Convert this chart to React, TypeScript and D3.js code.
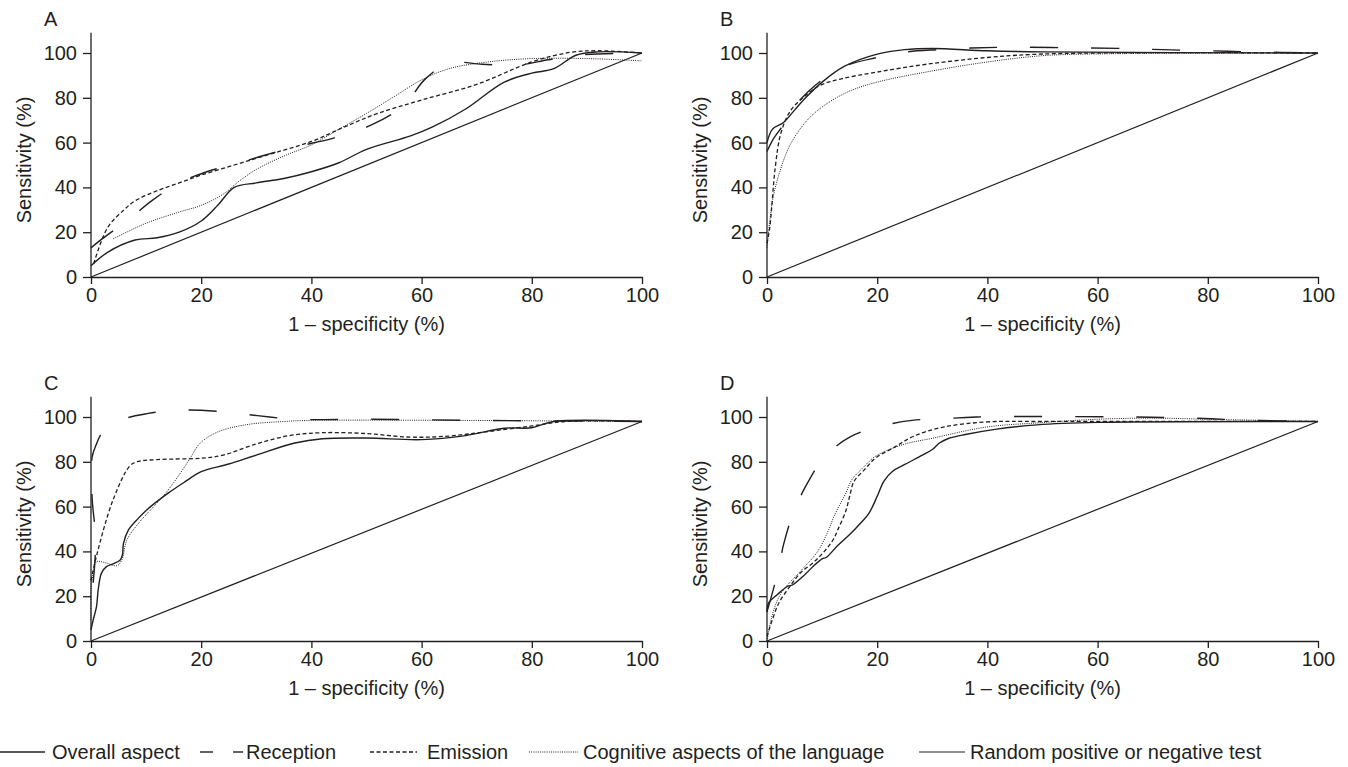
import React, { useEffect, useRef } from 'react';
import * as d3 from 'd3';

type Pt = [number, number];

const ticks = [0, 20, 40, 60, 80, 100];
const xTitle = '1 – specificity (%)';
const yTitle = 'Sensitivity (%)';
const seriesNames = [
  'Overall aspect',
  'Reception',
  'Emission',
  'Cognitive aspects of the language',
  'Random positive or negative test',
];

// Panel A
const aOverall: Pt[] = [[0, 5], [3, 11], [8, 16.5], [12, 17.5], [16, 20], [20, 25], [23, 32], [26, 40], [30, 42], [35, 44], [40, 47], [45, 51], [50, 57], [58, 63], [62, 67], [68, 75], [75, 87], [80, 91], [84, 93], [88, 99], [92, 100.5], [100, 100]];
const aReception: Pt[] = [[0, 13], [2, 17], [7, 26], [11, 34], [16, 42], [21, 47], [27, 51], [31, 54], [37, 58], [44, 62], [51, 68], [57, 77], [60.5, 88], [65, 95.5], [71, 95], [77, 94.5], [83, 97], [88, 99], [100, 100]];
const aEmission: Pt[] = [[0.5, 6], [3, 22], [6, 30], [8, 34], [12, 38.5], [16, 42], [20, 45.5], [26, 50], [32, 54.5], [40, 60.5], [46, 67], [52, 73], [60, 79], [70, 86], [80, 96], [87, 100.3], [92, 101], [100, 100]];
const aCognitive: Pt[] = [[4, 17], [10, 24], [16, 29], [20, 32], [24, 37], [27, 43], [30, 48], [35, 54], [40, 59], [45, 66], [50, 73], [55, 80.5], [60, 88], [65, 93], [72, 96], [80, 97.5], [90, 97.5], [100, 96.5]];
const aRandom: Pt[] = [[0, 0], [100, 100]];

// Panel B
const bOverall: Pt[] = [[0, 60], [1, 66], [3, 69], [5, 74.5], [7, 80], [10, 87], [14, 94], [20, 99.5], [25, 101.5], [30, 102], [40, 101], [50, 100.5], [100, 100]];
const bReception: Pt[] = [[0, 56], [1, 61], [3, 68], [6, 79], [10, 88], [14, 94], [20, 98], [25, 100.4], [31, 101.5], [37, 102.2], [45, 102.6], [55, 102.3], [65, 102], [70, 101.6], [80, 101], [88, 100.5], [100, 100]];
const bEmission: Pt[] = [[0, 15], [0.5, 22], [1.5, 49], [2.5, 64], [4.2, 74], [6.5, 80], [9.6, 85.5], [13.5, 88.5], [20, 91.5], [29, 95], [40, 98], [52, 99.7], [100, 100]];
const bCognitive: Pt[] = [[0, 13], [1, 34], [2.2, 46], [4.2, 59], [7.3, 70], [10.4, 76.6], [15, 83], [20, 87], [30, 92], [40, 96], [50, 98.8], [60, 99.6], [100, 100]];
const bRandom: Pt[] = [[0, 0], [100, 100]];

// Panel C
const cOverall: Pt[] = [[0, 5], [0.4, 9.4], [1, 15.3], [1.3, 22.8], [1.9, 30.3], [2.8, 33.2], [4, 34.4], [5.3, 36.2], [5.7, 38.4], [5.9, 43.6], [6.8, 49.6], [8.3, 54], [10.1, 58.5], [14, 66], [17, 71], [20, 75.6], [25, 79], [30, 83], [37, 88.4], [42, 90.3], [50, 90.6], [60, 89.9], [68, 91.7], [75, 95], [80, 95.2], [84, 98], [100, 98]];
const cReception: Pt[] = [[0.4, 26], [0.85, 45], [0.2, 64], [0.2, 82], [1, 88], [2.1, 93.2], [6, 99.1], [10.4, 101.6], [16.2, 103.1], [23.3, 102.5], [30.2, 100.6], [37, 99], [50, 99], [70, 98.5], [100, 98]];
const cEmission: Pt[] = [[0, 27], [1, 38], [4, 63], [7, 78], [8.3, 80], [12, 81], [20, 81.6], [24, 83], [30, 88], [36, 91.7], [42, 93], [50, 92.6], [58, 91], [65, 91.5], [72, 93.5], [80, 96], [86, 98], [100, 98]];
const cCognitive: Pt[] = [[0, 9.4], [0, 22.8], [0.4, 30.2], [1, 35.4], [2.8, 34.8], [4.7, 33.6], [5.6, 36.2], [6.5, 45], [8.6, 52.5], [11.9, 61.4], [14, 67.4], [16.2, 74.9], [18, 81.6], [19.8, 88.3], [23, 93.3], [28, 96.5], [35, 98], [40, 98.5], [100, 98]];
const cRandom: Pt[] = [[0, 0], [100, 98]];

// Panel D
const dOverall: Pt[] = [[0, 13], [0.3, 17], [1.9, 20.8], [3.8, 24.5], [4.6, 25], [6.9, 29.7], [8.4, 33.4], [10, 36.7], [10.8, 37.4], [12.7, 42.3], [15, 47.5], [17, 52.7], [18.5, 57], [20, 64.6], [21.2, 71.3], [22.8, 75.8], [25, 78.8], [28.2, 83], [30, 85.5], [31.3, 88.4], [32.8, 90.3], [36, 92.2], [41.4, 94.5], [49, 96.5], [60, 97.6], [100, 98]];
const dReception: Pt[] = [[0, 13], [2, 31], [3, 43], [4.6, 56], [7, 69], [10.4, 82], [15, 91], [20.5, 95.8], [26.3, 98.5], [32, 99.2], [38, 100], [66, 100], [77, 99.5], [88, 98.5], [100, 98]];
const dEmission: Pt[] = [[0, 2], [1, 9.7], [2.2, 17.2], [4.2, 24.5], [6.1, 30.5], [8.4, 35], [10.4, 40], [12, 45.2], [13, 50.5], [14.3, 58], [15, 64.6], [15.8, 71.3], [17.7, 76.5], [19.7, 81.7], [22.8, 86], [26.6, 91.4], [32, 95.5], [40, 97.8], [50, 98], [100, 98]];
const dCognitive: Pt[] = [[0, 0], [1, 12], [2.6, 21.5], [6.1, 31.2], [9.2, 40], [11.2, 49.7], [12.3, 56.4], [14.3, 66], [15.4, 72], [17.4, 77.3], [19.7, 82.5], [24.7, 87.7], [30, 90.5], [39.8, 95.5], [50, 97.5], [60, 99], [70, 99.5], [80, 99], [100, 98]];
const dRandom: Pt[] = [[0, 0], [100, 98]];

const INK = '#231f20';
const FONT = '"Liberation Sans", Arial, Helvetica, sans-serif';
const PW = 551;
const PH = 224;

// order: overall, reception, emission, cognitive, random
const lineStyles = [
  { dash: null, width: 1.4 },
  { dash: '28,33', width: 1.4 },
  { dash: '4,2.5', width: 1.3 },
  { dash: '1,1.2', width: 1 },
  { dash: null, width: 1.2 },
];

const panels = [
  { label: 'A', x0: 91, yTop: 53, series: [aOverall, aReception, aEmission, aCognitive, aRandom] },
  { label: 'B', x0: 767, yTop: 53, series: [bOverall, bReception, bEmission, bCognitive, bRandom] },
  { label: 'C', x0: 91, yTop: 417, series: [cOverall, cReception, cEmission, cCognitive, cRandom] },
  { label: 'D', x0: 767, yTop: 417, series: [dOverall, dReception, dEmission, dCognitive, dRandom] },
];

const legendPos = [
  { segs: [[0, 45]], tx: 52 },
  { segs: [[200, 213], [233, 243]], tx: 246 },
  { segs: [[370, 417]], tx: 427 },
  { segs: [[529, 578]], tx: 583 },
  { segs: [[919, 965]], tx: 970 },
];

const App = () => {
  const svgRef = useRef<SVGSVGElement>(null);

  useEffect(() => {
    const svg = d3.select(svgRef.current);
    svg.selectAll('*').remove();

    panels.forEach(p => {
      const x = d3.scaleLinear().domain([0, 100]).range([p.x0, p.x0 + PW]);
      const y = d3.scaleLinear().domain([0, 100]).range([p.yTop + PH, p.yTop]);
      const g = svg.append('g');

      // x axis
      const xa = g.append('g')
        .attr('transform', `translate(0,${y(0)})`)
        .call(d3.axisBottom(x).tickValues(ticks).tickSize(7).tickPadding(4).tickSizeOuter(0));

      // y axis (line runs a bit above 100)
      const ya = g.append('g')
        .attr('transform', `translate(${x(0)},0)`)
        .call(d3.axisLeft(y).tickValues(ticks).tickSize(8).tickPadding(6).tickSizeOuter(0));
      ya.select('.domain').remove();
      g.append('line')
        .attr('x1', x(0)).attr('x2', x(0))
        .attr('y1', y(0)).attr('y2', y(109))
        .attr('stroke', INK).attr('stroke-width', 1.3);

      [xa, ya].forEach(a => {
        a.attr('font-size', 20).attr('font-family', FONT);
        a.selectAll('text').attr('fill', INK);
        a.selectAll('line').attr('stroke', INK).attr('stroke-width', 1.3);
        a.selectAll('.domain').attr('stroke', INK).attr('stroke-width', 1.3);
      });

      // titles
      g.append('text')
        .attr('x', p.x0 - 47)
        .attr('y', p.yTop - 27)
        .attr('font-size', 20)
        .attr('font-family', FONT)
        .attr('fill', INK)
        .text(p.label);

      g.append('text')
        .attr('x', (x(0) + x(100)) / 2)
        .attr('y', y(0) + 54)
        .attr('text-anchor', 'middle')
        .attr('font-size', 20)
        .attr('font-family', FONT)
        .attr('fill', INK)
        .text(xTitle);

      g.append('text')
        .attr('transform', `translate(${p.x0 - 60},${p.yTop + 107}) rotate(-90)`)
        .attr('text-anchor', 'middle')
        .attr('font-size', 20)
        .attr('font-family', FONT)
        .attr('fill', INK)
        .text(yTitle);

      // curves, random line first
      const line = d3.line<Pt>()
        .x(d => x(d[0]))
        .y(d => y(d[1]))
        .curve(d3.curveCatmullRom.alpha(0.5));

      [4, 3, 2, 0, 1].forEach(i => {
        const st = lineStyles[i];
        g.append('path')
          .datum(p.series[i])
          .attr('d', line)
          .attr('fill', 'none')
          .attr('stroke', INK)
          .attr('stroke-width', st.width)
          .attr('stroke-dasharray', st.dash)
          .attr('stroke-linejoin', 'round');
      });
    });

    // legend
    const lg = svg.append('g');
    seriesNames.forEach((name, i) => {
      const pos = legendPos[i];
      const st = lineStyles[i];
      pos.segs.forEach(s => {
        lg.append('line')
          .attr('x1', s[0]).attr('x2', s[1])
          .attr('y1', 752).attr('y2', 752)
          .attr('stroke', INK)
          .attr('stroke-width', st.width)
          .attr('stroke-dasharray', i === 1 ? null : st.dash);
      });
      lg.append('text')
        .attr('x', pos.tx)
        .attr('y', 759)
        .attr('font-size', 20)
        .attr('font-family', FONT)
        .attr('fill', INK)
        .text(name);
    });
  }, []);

  return (
    <svg
      ref={svgRef}
      width={1348}
      height={767}
      style={{ position: 'absolute', left: 0, top: 0, background: '#fff' }}
    />
  );
};

export default App;
